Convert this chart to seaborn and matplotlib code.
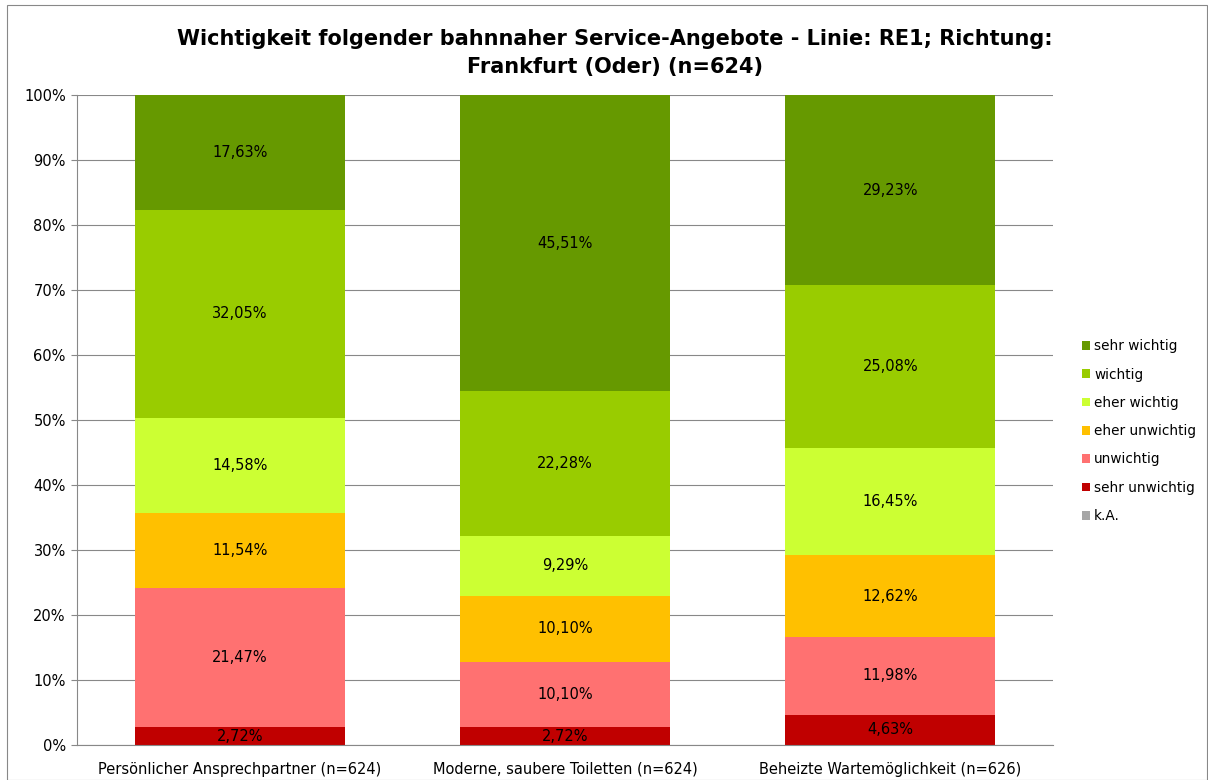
import matplotlib
matplotlib.use("Agg")
import matplotlib.pyplot as plt
import seaborn as sns
import pandas as pd
import numpy as np

categories = ["Persönlicher Ansprechpartner (n=624)",
              "Moderne, saubere Toiletten (n=624)",
              "Beheizte Wartemöglichkeit (n=626)"]
series_names = ["k.A.", "sehr unwichtig", "unwichtig", "eher unwichtig",
                "eher wichtig", "wichtig", "sehr wichtig"]
ka = [0.0, 0.0, 0.0]
sehr_unwichtig = [2.72, 2.72, 4.63]
unwichtig = [21.47, 10.10, 11.98]
eher_unwichtig = [11.54, 10.10, 12.62]
eher_wichtig = [14.58, 9.29, 16.45]
wichtig = [32.05, 22.28, 25.08]
sehr_wichtig = [17.63, 45.51, 29.23]
colors = ["#A6A6A6", "#C00000", "#FF7171", "#FFC000", "#CCFF33", "#99CC00", "#669900"]

values = [ka, sehr_unwichtig, unwichtig, eher_unwichtig, eher_wichtig, wichtig, sehr_wichtig]

sns.set_style("white")
plt.rcParams['font.family'] = ['DejaVu Sans']
plt.rcParams['text.color'] = 'black'
plt.rcParams['xtick.color'] = 'black'
plt.rcParams['ytick.color'] = 'black'

fig = plt.figure(figsize=(12.08, 7.8), dpi=100)
ax = fig.add_axes([0.0637, 0.0449, 0.808, 0.833])

bottom = np.zeros(len(categories))
for name, vals, col in zip(series_names, values, colors):
    df = pd.DataFrame({"cat": categories, "val": vals})
    sns.barplot(data=df, x="cat", y="val", color=col, bottom=bottom, width=0.645,
                ax=ax, linewidth=0, saturation=1, label=name)
    for i, v in enumerate(vals):
        if v > 0:
            ax.text(i, bottom[i] + v / 2, f"{v:.2f}%".replace(".", ","),
                    ha="center", va="center", fontsize=10.5, color="black")
    bottom = bottom + np.array(vals)

ax.set_ylim(0, 100)
ax.set_xlim(-0.5, 2.5)
ax.set_yticks(np.arange(0, 101, 10))
ax.set_yticklabels([f"{t}%" for t in range(0, 101, 10)], fontsize=10.5)
ax.tick_params(axis="x", labelsize=10.5, length=0, pad=12, colors="black")
ax.tick_params(axis="y", length=4, color="#888888", left=True, pad=4, labelcolor="black")
ax.set_xlabel("")
ax.set_ylabel("")
ax.yaxis.grid(True, color="#888888", linewidth=0.8)
ax.set_axisbelow(True)
for s in ["top", "right"]:
    ax.spines[s].set_visible(False)
ax.spines["left"].set_color("#888888")
ax.spines["bottom"].set_color("#888888")

h, l = ax.get_legend_handles_labels()
leg = ax.legend(h[::-1], l[::-1], loc="center left", bbox_to_anchor=(1.024, 0.483),
                frameon=False, fontsize=9.8, handlelength=0.6, handleheight=0.6,
                handletextpad=0.3, labelspacing=1.05, borderaxespad=0)

fig.suptitle("Wichtigkeit folgender bahnnaher Service-Angebote - Linie: RE1; Richtung:\nFrankfurt (Oder) (n=624)",
             fontsize=15, fontweight="bold", y=0.963, x=0.509, color="black",
             linespacing=1.5)

fig.patches.append(plt.Rectangle((0.006, 0.0), 0.993, 0.994, transform=fig.transFigure,
                                 fill=False, edgecolor="#888888", linewidth=0.8))
fig.savefig("out.png", dpi=100)
